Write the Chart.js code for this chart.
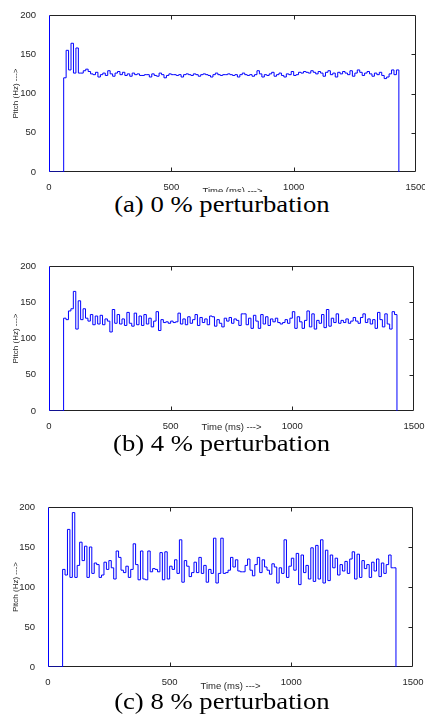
<!DOCTYPE html>
<html><head><meta charset="utf-8">
<script src="https://cdn.jsdelivr.net/npm/chart.js@4/dist/chart.umd.min.js"></script>
<style>
html,body{margin:0;padding:0;background:#fff;width:425px;height:718px;overflow:hidden;position:relative;}
.panel{position:absolute;left:0;width:425px;overflow:hidden;}
canvas{display:block;}
.cap{position:absolute;left:0;width:444px;text-align:center;font-family:"Liberation Serif";font-size:23px;line-height:26px;color:#000;white-space:nowrap;}
.cap span{display:inline-block;transform:scaleX(1.16);transform-origin:center;}
</style></head><body>
<div class="panel" style="top:0;height:192px"><canvas id="c1" width="425" height="200"></canvas></div>
<div class="cap" id="cap1" style="top:192px"><span></span></div>
<div class="panel" style="top:240px;height:200px"><canvas id="c2" width="425" height="200"></canvas></div>
<div class="cap" id="cap2" style="top:431px"><span></span></div>
<div class="panel" style="top:480px;height:215px"><canvas id="c3" width="425" height="215"></canvas></div>
<div class="cap" id="cap3" style="top:689px"><span></span></div>
<script>
// ---- data (pitch in Hz, one value per 10 ms frame starting at 60 ms) ----
const START_MS = 60;
const FRAME_MS = 10;
const X_LABEL = 'Time (ms) --->';
const Y_LABEL = 'Pitch (Hz) --->';
const X_MIN = 0, X_MAX = 1500, X_STEP = 500;
const Y_MIN = 0, Y_MAX = 200, Y_STEP = 50;
const captions = ['(a) 0 % perturbation', '(b) 4 % perturbation', '(c) 8 % perturbation'];

const pitch0 = [
  120,155,130,164,126,158,126,
  126,129,131,128,125,124,127,121,124,126,123,129,125,122,126,128,124,
  127,123,125,122,126,124,125,123,123,124,124,121,125,123,122,126,124,120,123,125,
  124,124,123,124,121,124,125,124,123,125,124,122,124,125,124,123,121,124,126,124,
  123,124,124,125,124,123,124,121,124,126,124,123,124,122,124,129,125,121,124,123,
  125,127,122,124,126,123,121,125,124,128,123,124,127,126,128,127,126,129,127,125,
  128,126,122,127,129,124,126,121,127,125,128,126,124,129,122,126,130,127,123,126,
  128,125,122,126,124,127,123,119,121,125,130,124,130
];
const pitch4 = [
  128,126,138,141,165,113,152,126,141,128,
  124,133,119,131,120,132,119,127,124,109,
  140,121,133,120,127,118,136,121,117,135,
  119,131,118,133,120,128,116,124,137,111,
  126,122,123,121,124,122,123,135,120,127,
  119,130,121,126,133,118,129,122,127,119,
  131,130,117,126,121,116,128,124,129,121,
  127,125,118,134,134,119,128,114,132,124,
  114,133,120,130,118,127,123,128,122,120,
  122,126,121,128,137,114,130,123,114,125,
  138,116,134,113,125,121,133,115,140,117,
  128,122,134,121,125,122,127,121,124,129,
  124,121,129,134,122,127,120,126,114,136,
  126,116,134,120,113,137,133
];
const pitch8 = [
  122,115,172,112,193,112,127,156,133,151,
  112,150,117,130,128,112,115,131,122,133,
  124,110,145,137,121,118,126,112,122,154,
  128,109,145,110,109,145,119,123,122,119,
  143,109,144,110,126,122,134,117,159,106,
  133,126,113,118,131,118,137,117,127,106,
  122,117,161,105,117,161,117,118,121,137,
  125,134,120,119,119,127,135,121,114,128,
  137,118,134,125,121,116,129,125,105,124,
  117,159,112,126,136,121,142,103,140,118,
  127,110,149,107,152,110,159,105,146,108,
  140,124,136,115,128,120,132,117,135,144,
  110,141,112,133,123,128,112,131,120,135,
  113,130,117,128,140,124,124
];

// ---- drawing ----
const TICK_FONT = {family: '"Liberation Sans", Arial, sans-serif', size: 9.5};
const TITLE_FONT_X = {family: '"Liberation Sans", Arial, sans-serif', size: 9.5};
const TITLE_FONT_Y = {family: '"Liberation Sans", Arial, sans-serif', size: 8};
const TEXT_COLOR = '#262626';

const framePlugin = {
  id: 'matlabFrame',
  beforeDatasetsDraw(chart) {
    const {ctx, chartArea: a, scales: {x, y}} = chart;
    const L = Math.round(a.left) + 0.5, R = Math.round(a.right) - 0.5;
    const T = Math.round(a.top) + 0.5, B = Math.round(a.bottom) - 0.5;
    ctx.save();
    ctx.lineWidth = 1;
    ctx.strokeStyle = '#222';
    ctx.beginPath();
    ctx.moveTo(L, B); ctx.lineTo(R, B); ctx.lineTo(R, T); ctx.lineTo(L, T);
    x.ticks.forEach(t => {
      if (t.value > x.min && t.value < x.max) {
        const px = Math.round(x.getPixelForValue(t.value)) + 0.5;
        ctx.moveTo(px, B); ctx.lineTo(px, B - 4);
        ctx.moveTo(px, T); ctx.lineTo(px, T + 4);
      }
    });
    y.ticks.forEach(t => {
      if (t.value > y.min && t.value < y.max) {
        const py = Math.round(y.getPixelForValue(t.value)) + 0.5;
        ctx.moveTo(R, py); ctx.lineTo(R - 4, py);
      }
    });
    ctx.stroke();
    ctx.strokeStyle = '#0000ff';
    ctx.beginPath(); ctx.moveTo(L, B); ctx.lineTo(L, T); ctx.stroke();
    ctx.restore();
  }
};

function makeChart(id, values, g) {
  const pts = [{x: X_MIN, y: 0}];
  values.forEach((v, i) => pts.push({x: START_MS + i * FRAME_MS, y: v}));
  pts.push({x: START_MS + values.length * FRAME_MS, y: 0});
  const canvas = document.getElementById(id);
  const H = canvas.height;
  return new Chart(canvas, {
    type: 'line',
    data: {datasets: [{
      data: pts, stepped: 'before', borderColor: '#0000ff', borderWidth: 1,
      pointRadius: 0, fill: false, tension: 0
    }]},
    plugins: [framePlugin],
    options: {
      responsive: false, maintainAspectRatio: false, animation: false, devicePixelRatio: 1,
      layout: {padding: {top: g.top, right: 425 - g.right, left: 0, bottom: 0}},
      plugins: {legend: {display: false}, tooltip: {enabled: false}},
      scales: {
        x: {
          type: 'linear', min: X_MIN, max: X_MAX,
          ticks: {stepSize: X_STEP, font: TICK_FONT, color: TEXT_COLOR, padding: 2, maxRotation: 0,
                  callback: v => String(v)},
          grid: {display: false}, border: {display: false},
          title: {display: true, text: X_LABEL, font: TITLE_FONT_X, color: TEXT_COLOR, padding: {top: 0, bottom: g.titlePad}},
          afterFit(s) { s.height = H - g.bottom; s.paddingLeft = 0; s.paddingRight = 0; }
        },
        y: {
          min: Y_MIN, max: Y_MAX,
          ticks: {stepSize: Y_STEP, font: TICK_FONT, color: TEXT_COLOR, padding: 5,
                  callback: v => String(v)},
          grid: {display: false}, border: {display: false},
          title: {display: true, text: Y_LABEL, font: TITLE_FONT_Y, color: TEXT_COLOR, padding: {top: 11, bottom: 0}},
          afterFit(s) { s.width = g.left; s.paddingTop = 0; s.paddingBottom = 0; }
        }
      }
    }
  });
}

makeChart('c1', pitch0, {top: 15, bottom: 172, left: 49, right: 416, titlePad: 3.3});
makeChart('c2', pitch4, {top: 26, bottom: 171, left: 49, right: 414, titlePad: 6.6});
makeChart('c3', pitch8, {top: 27, bottom: 187, left: 48, right: 413, titlePad: 3.3});
['cap1','cap2','cap3'].forEach((id, i) => {
  document.querySelector('#' + id + ' span').textContent = captions[i];
});
</script>
</body></html>
